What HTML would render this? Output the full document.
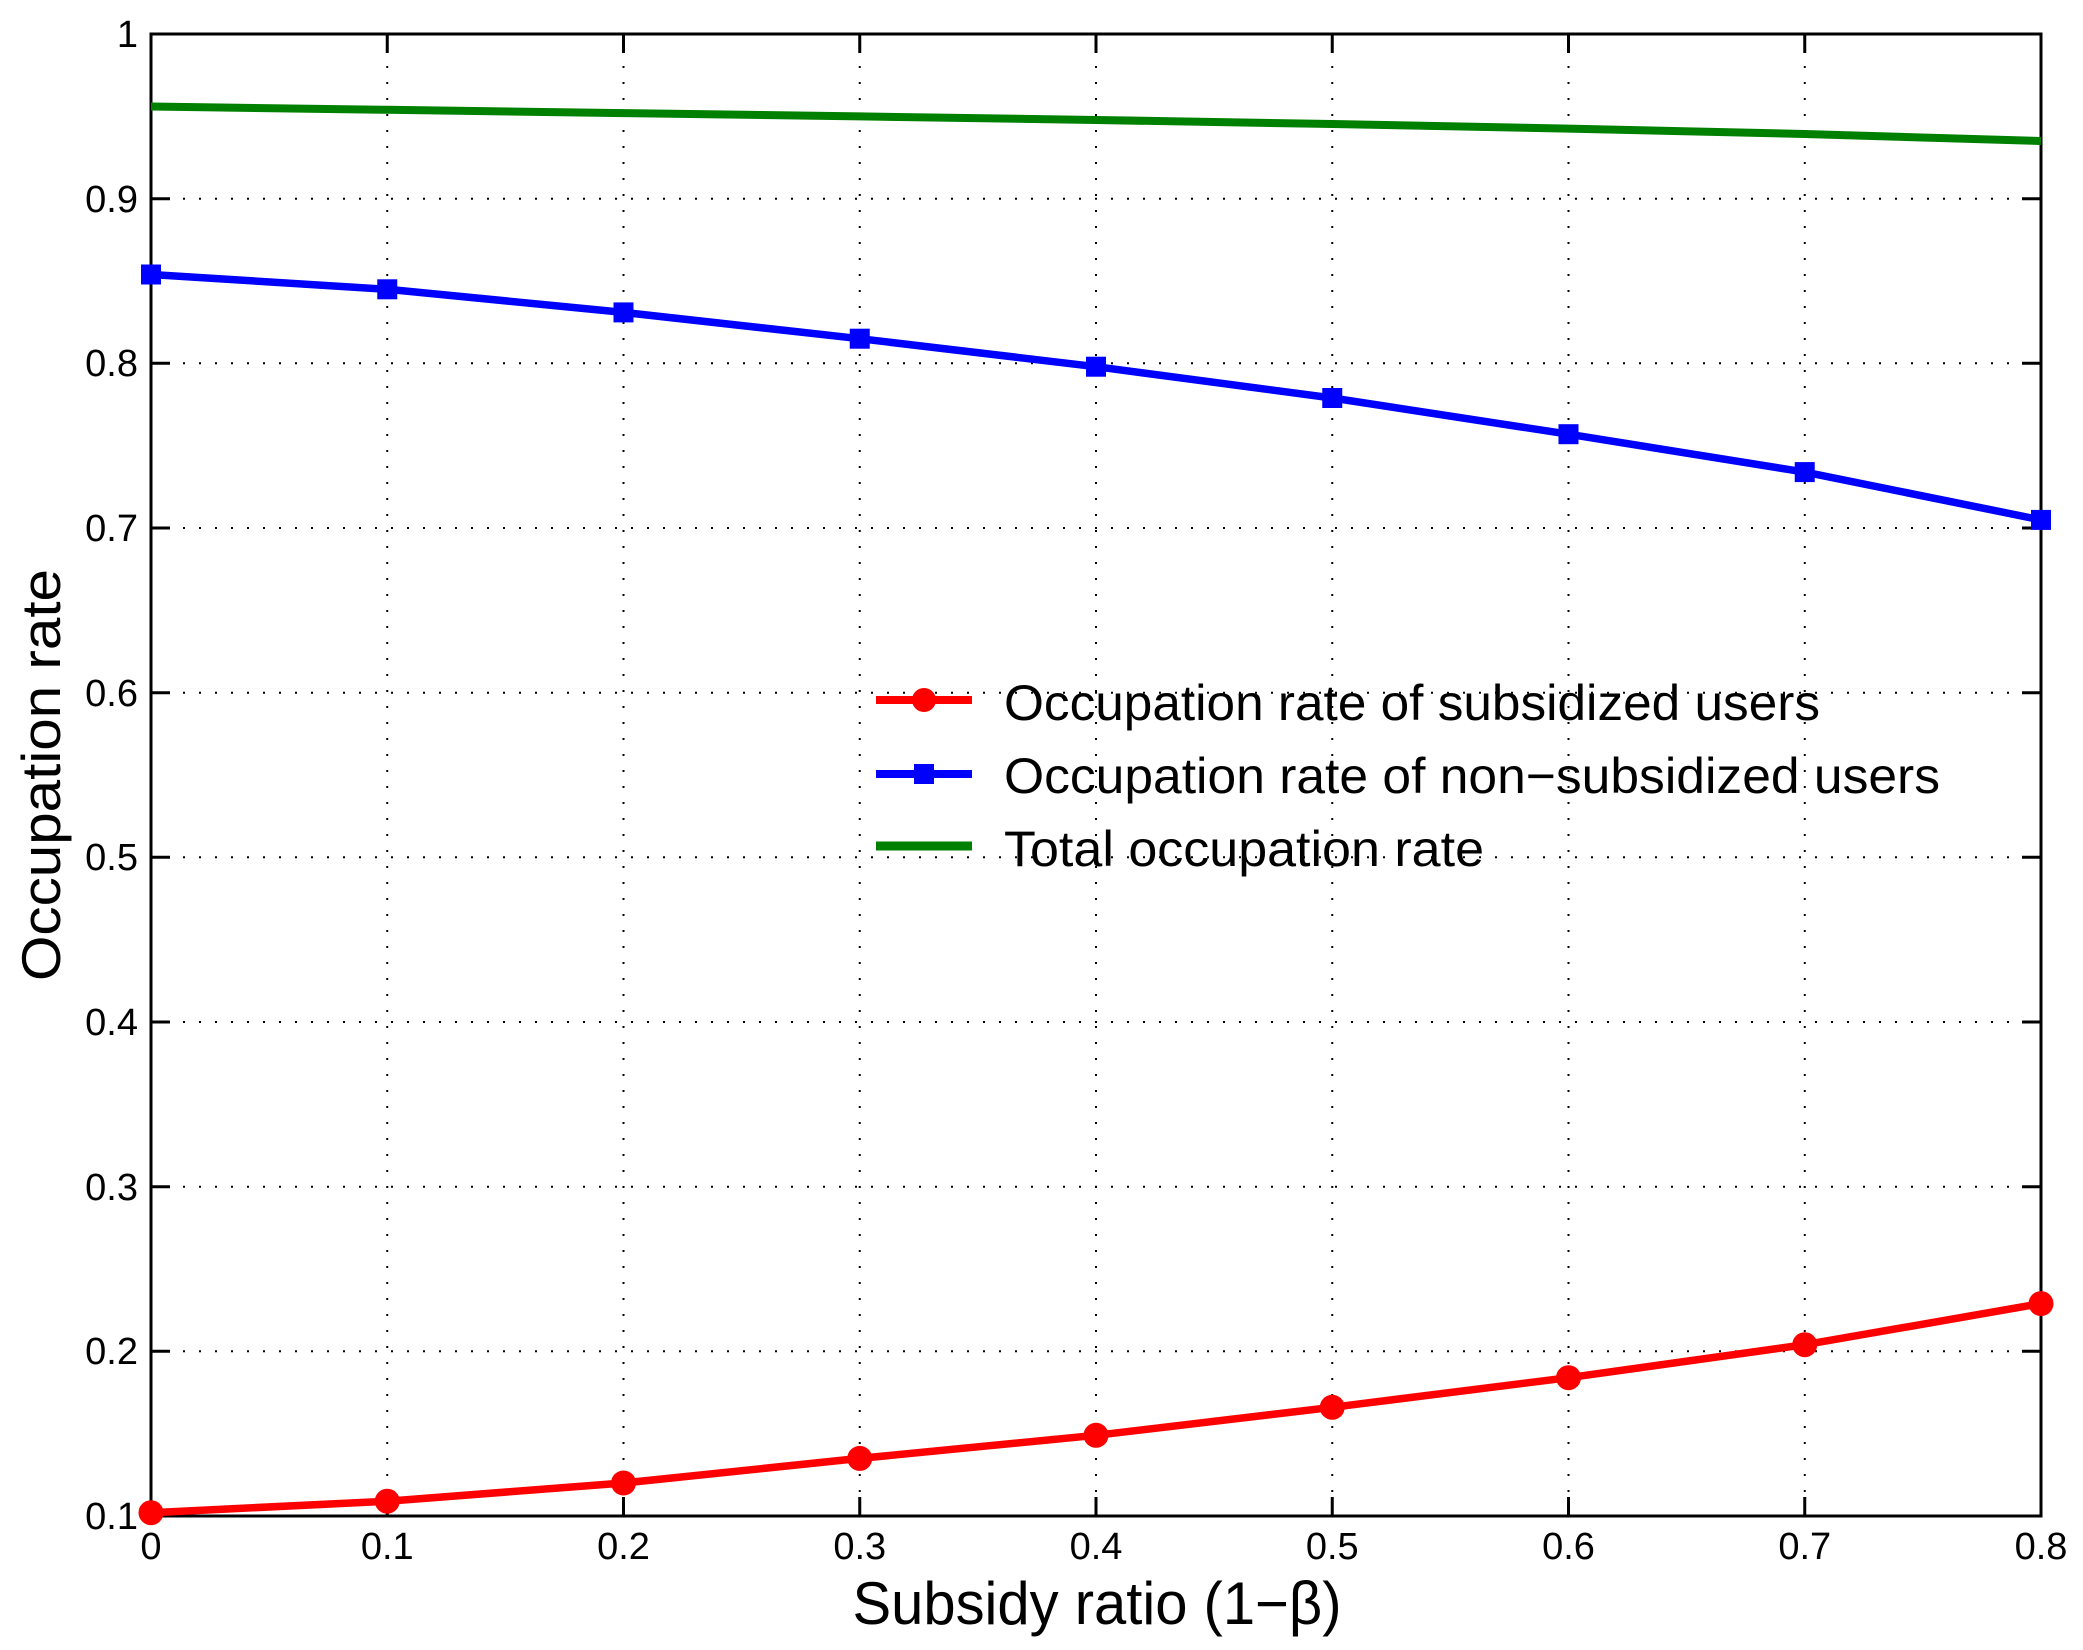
<!DOCTYPE html>
<html><head><meta charset="utf-8"><style>html,body{margin:0;padding:0;background:#fff}svg{display:block}</style></head>
<body>
<svg width="2083" height="1650" viewBox="0 0 2083 1650" xmlns="http://www.w3.org/2000/svg" font-family="Liberation Sans, Arial, sans-serif">
<rect width="2083" height="1650" fill="#fff"/>
<g stroke="#000" stroke-width="2" stroke-dasharray="2,14">
<line x1="387.25" y1="34" x2="387.25" y2="1516"/>
<line x1="623.5" y1="34" x2="623.5" y2="1516"/>
<line x1="859.75" y1="34" x2="859.75" y2="1516"/>
<line x1="1096" y1="34" x2="1096" y2="1516"/>
<line x1="1332.25" y1="34" x2="1332.25" y2="1516"/>
<line x1="1568.5" y1="34" x2="1568.5" y2="1516"/>
<line x1="1804.75" y1="34" x2="1804.75" y2="1516"/>
<line x1="151" y1="198.7" x2="2041" y2="198.7"/>
<line x1="151" y1="363.3" x2="2041" y2="363.3"/>
<line x1="151" y1="528" x2="2041" y2="528"/>
<line x1="151" y1="692.7" x2="2041" y2="692.7"/>
<line x1="151" y1="857.3" x2="2041" y2="857.3"/>
<line x1="151" y1="1022" x2="2041" y2="1022"/>
<line x1="151" y1="1186.7" x2="2041" y2="1186.7"/>
<line x1="151" y1="1351.3" x2="2041" y2="1351.3"/>
</g>
<rect x="151" y="34" width="1890" height="1482" fill="none" stroke="#000" stroke-width="3"/>
<g stroke="#000" stroke-width="3">
<path d="M387.25 1516v-19M623.5 1516v-19M859.75 1516v-19M1096 1516v-19M1332.25 1516v-19M1568.5 1516v-19M1804.75 1516v-19"/>
<path d="M387.25 34v19M623.5 34v19M859.75 34v19M1096 34v19M1332.25 34v19M1568.5 34v19M1804.75 34v19"/>
<path d="M151 198.7h19M151 363.3h19M151 528h19M151 692.7h19M151 857.3h19M151 1022h19M151 1186.7h19M151 1351.3h19"/>
<path d="M2041 198.7h-19M2041 363.3h-19M2041 528h-19M2041 692.7h-19M2041 857.3h-19M2041 1022h-19M2041 1186.7h-19M2041 1351.3h-19"/>
</g>
<g font-size="38" text-anchor="end" fill="#000">
<text x="138" y="47">1</text>
<text x="138" y="212">0.9</text>
<text x="138" y="376">0.8</text>
<text x="138" y="541">0.7</text>
<text x="138" y="706">0.6</text>
<text x="138" y="870">0.5</text>
<text x="138" y="1035">0.4</text>
<text x="138" y="1200">0.3</text>
<text x="138" y="1364">0.2</text>
<text x="138" y="1529">0.1</text>
</g>
<g font-size="38" text-anchor="middle" fill="#000">
<text x="151" y="1559">0</text>
<text x="387.25" y="1559">0.1</text>
<text x="623.5" y="1559">0.2</text>
<text x="859.75" y="1559">0.3</text>
<text x="1096" y="1559">0.4</text>
<text x="1332.25" y="1559">0.5</text>
<text x="1568.5" y="1559">0.6</text>
<text x="1804.75" y="1559">0.7</text>
<text x="2041" y="1559">0.8</text>
</g>
<polyline fill="none" stroke="#008000" stroke-width="8" points="151,106.5 387.25,109.8 623.5,113.1 859.75,116.4 1096,120 1332.25,124 1568.5,128.6 1804.75,134 2041,141"/>
<polyline fill="none" stroke="#0000ff" stroke-width="7.5" points="151,274.5 387.25,289.3 623.5,312.4 859.75,338.7 1096,366.7 1332.25,398 1568.5,434.2 1804.75,472.1 2041,519.9"/>
<g fill="#0000ff">
<rect x="141" y="264.5" width="20" height="20"/><rect x="377.25" y="279.3" width="20" height="20"/><rect x="613.5" y="302.4" width="20" height="20"/><rect x="849.75" y="328.7" width="20" height="20"/><rect x="1086" y="356.7" width="20" height="20"/><rect x="1322.25" y="388" width="20" height="20"/><rect x="1558.5" y="424.2" width="20" height="20"/><rect x="1794.75" y="462.1" width="20" height="20"/><rect x="2031" y="509.9" width="20" height="20"/>
</g>
<polyline fill="none" stroke="#ff0000" stroke-width="7.5" points="151,1512.7 387.25,1501.2 623.5,1483 859.75,1458.4 1096,1435.3 1332.25,1407.3 1568.5,1377.7 1804.75,1344.7 2041,1303.6"/>
<g fill="#ff0000">
<circle cx="151" cy="1512.7" r="12.5"/><circle cx="387.25" cy="1501.2" r="12.5"/><circle cx="623.5" cy="1483" r="12.5"/><circle cx="859.75" cy="1458.4" r="12.5"/><circle cx="1096" cy="1435.3" r="12.5"/><circle cx="1332.25" cy="1407.3" r="12.5"/><circle cx="1568.5" cy="1377.7" r="12.5"/><circle cx="1804.75" cy="1344.7" r="12.5"/><circle cx="2041" cy="1303.6" r="12.5"/>
</g>
<line x1="876" y1="700" x2="972" y2="700" stroke="#ff0000" stroke-width="8"/>
<circle cx="924" cy="700" r="12" fill="#ff0000"/>
<line x1="876" y1="774" x2="972" y2="774" stroke="#0000ff" stroke-width="8"/>
<rect x="914" y="764" width="20" height="20" fill="#0000ff"/>
<line x1="876" y1="846" x2="972" y2="846" stroke="#008000" stroke-width="9"/>
<g font-size="50" fill="#000">
<text x="1004" y="720" textLength="816" lengthAdjust="spacingAndGlyphs">Occupation rate of subsidized users</text>
<text x="1004" y="793" textLength="936" lengthAdjust="spacingAndGlyphs">Occupation rate of non−subsidized users</text>
<text x="1004" y="866" textLength="480" lengthAdjust="spacingAndGlyphs">Total occupation rate</text>
</g>
<text x="1097" y="1624" font-size="60" text-anchor="middle" textLength="489" lengthAdjust="spacingAndGlyphs">Subsidy ratio (1−β)</text>
<text transform="translate(60,775) rotate(-90)" font-size="55" text-anchor="middle" textLength="412" lengthAdjust="spacingAndGlyphs">Occupation rate</text>
</svg>
</body></html>
